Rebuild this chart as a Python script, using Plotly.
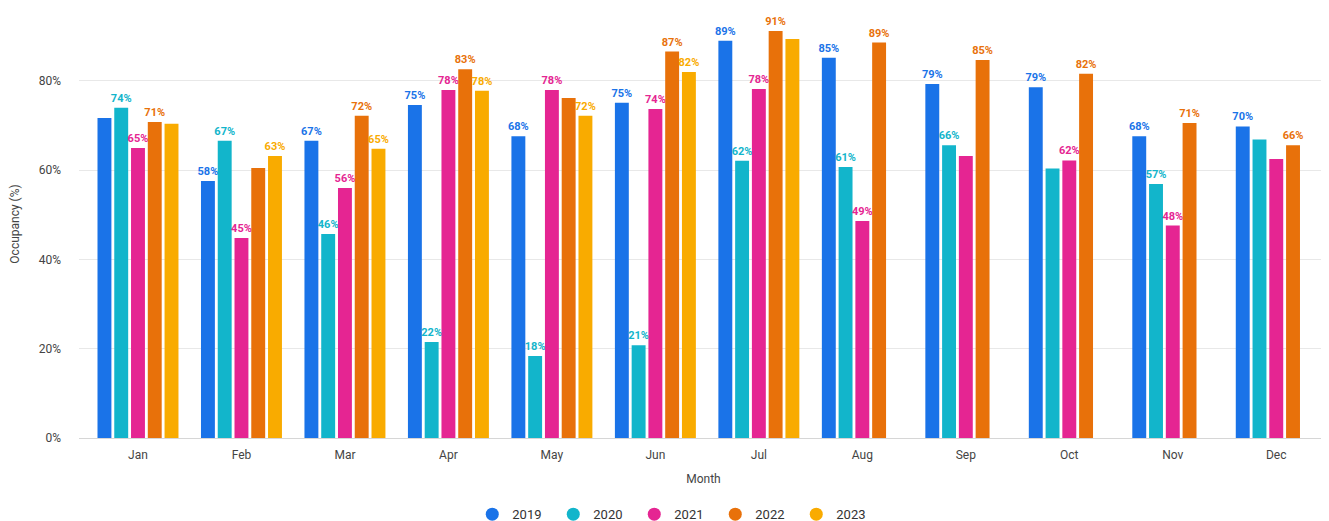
import plotly.graph_objects as go

months = ["Jan", "Feb", "Mar", "Apr", "May", "Jun", "Jul", "Aug", "Sep", "Oct", "Nov", "Dec"]
years = ["2019", "2020", "2021", "2022", "2023"]

occ_2019 = [71.7, 57.6, 66.6, 74.6, 67.6, 75.1, 89.0, 85.2, 79.3, 78.6, 67.6, 69.8]
occ_2020 = [74.0, 66.6, 45.7, 21.5, 18.4, 20.8, 62.1, 60.7, 65.6, 60.4, 56.9, 66.9]
occ_2021 = [65.0, 44.8, 56.0, 78.0, 78.0, 73.7, 78.2, 48.6, 63.2, 62.2, 47.6, 62.5]
occ_2022 = [70.8, 60.5, 72.2, 82.6, 76.2, 86.6, 91.2, 88.6, 84.7, 81.6, 70.6, 65.6]
occ_2023 = [70.4, 63.2, 64.8, 77.8, 72.2, 82.0, 89.4, None, None, None, None, None]

# which data labels are visible in the original chart
show_2019 = [0, 1, 1, 1, 1, 1, 1, 1, 1, 1, 1, 1]
show_2020 = [1, 1, 1, 1, 1, 1, 1, 1, 1, 0, 1, 0]
show_2021 = [1, 1, 1, 1, 1, 1, 1, 1, 0, 1, 1, 0]
show_2022 = [1, 0, 1, 1, 0, 1, 1, 1, 1, 1, 1, 1]
show_2023 = [0, 1, 1, 1, 1, 1, 0, 0, 0, 0, 0, 0]

series = [occ_2019, occ_2020, occ_2021, occ_2022, occ_2023]
shows = [show_2019, show_2020, show_2021, show_2022, show_2023]
colors = ["#1a73e8", "#12b5cb", "#e52592", "#e8710a", "#f9ab00"]

fig = go.Figure()
for name, vals, show, col in zip(years, series, shows, colors):
    texts = [(f"{round(v)}%" if (v is not None and s) else "") for v, s in zip(vals, show)]
    fig.add_trace(go.Bar(
        x=months, y=vals, name=name, marker=dict(color=col, line=dict(width=0)),
        text=texts, textposition="outside", textangle=0, constraintext="none",
        cliponaxis=False, showlegend=False,
        textfont=dict(color=col, size=11, family="Roboto", weight="bold"),
        hovertemplate="%{x}: %{y:.1f}%<extra>" + name + "</extra>",
    ))

for name, col in zip(years, colors):
    fig.add_trace(go.Scatter(
        x=[None], y=[None], mode="markers", name=name,
        marker=dict(color=col, size=13, symbol="circle"),
        showlegend=True,
    ))

fig.update_layout(
    width=1329, height=521,
    margin=dict(l=71, r=9, t=2, b=91, autoexpand=False),
    paper_bgcolor="white", plot_bgcolor="white",
    barmode="group", bargap=0.19, bargroupgap=0.17,
    font=dict(family="Roboto", size=12, color="#444"),
    legend=dict(orientation="h", x=0.477, xanchor="center", y=-0.178, yanchor="middle",
                font=dict(size=13, color="#333"), itemwidth=30, entrywidth=36),
    xaxis=dict(
        categoryorder="array", categoryarray=months, range=[-0.57, 11.5],
        showgrid=False, showline=True, linecolor="#d6d6d6", linewidth=1,
        tickfont=dict(size=12, color="#444"), automargin=False,
        title=dict(text="Month", font=dict(size=12, color="#444"), standoff=13),
        ticks="", ticklabelstandoff=6,
    ),
    yaxis=dict(
        range=[0, 95.9], tickvals=[0, 20, 40, 60, 80], ticktext=["0%", "20%", "40%", "60%", "80%"],
        showgrid=True, gridcolor="#e8e8e8", gridwidth=1, zeroline=False, automargin=False,
        tickfont=dict(size=12, color="#444"), ticklabelstandoff=17,
        title=dict(text="Occupancy (%)", font=dict(size=12, color="#444"), standoff=19),
    ),
)

fig.write_html("out.html")
